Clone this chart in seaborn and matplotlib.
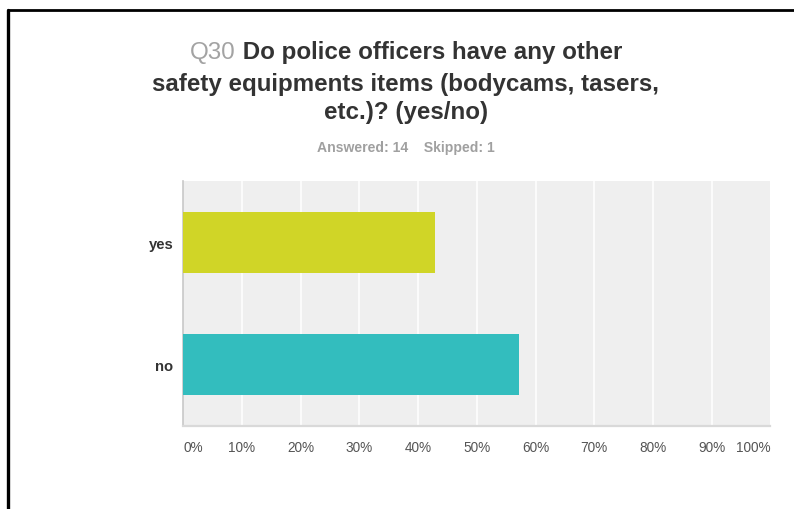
import matplotlib
matplotlib.use("Agg")
import matplotlib.pyplot as plt
from matplotlib.lines import Line2D
import numpy as np
import pandas as pd
import seaborn as sns

# Survey results
categories = ["yes", "no"]
responses = [6, 8]
answered = 14
skipped = 1
bar_colors = ["#D0D527", "#33BDBE"]
tick_values = [0, 10, 20, 30, 40, 50, 60, 70, 80, 90, 100]
tick_labels = ["0%", "10%", "20%", "30%", "40%", "50%", "60%", "70%", "80%", "90%", "100%"]

percent = [r / answered * 100 for r in responses]
df = pd.DataFrame({"answer": categories, "percent": percent})

sns.set_theme(style="white")
plt.rcParams["font.family"] = ["Liberation Sans", "DejaVu Sans"]

fig = plt.figure(figsize=(7.94, 5.10), dpi=100)
ax = fig.add_axes([0.2305, 0.1627, 0.7399, 0.4804])
ax.set_facecolor("#EFEFEF")

sns.barplot(data=df, x="percent", y="answer", hue="answer",
            palette=bar_colors, orient="h", width=0.5, legend=False,
            saturation=1, ax=ax, zorder=3, edgecolor="none")

ax.set_xlim(0, 100)
ax.set_ylim(1.5, -0.5)
ax.set_xlabel("")
ax.set_ylabel("")

ax.set_xticks(tick_values)
ax.set_xticklabels(tick_labels)
for v in tick_values[1:-1]:
    ax.axvline(v, color="white", lw=1.1, zorder=1)
ax.tick_params(axis="x", length=0, pad=10, labelsize=9.8, labelcolor="#555555")
ax.tick_params(axis="y", length=0, pad=7, labelsize=10.6, labelcolor="#333333")
labels = ax.get_xticklabels()
labels[0].set_ha("left")
labels[-1].set_ha("right")
for lab in ax.get_yticklabels():
    lab.set_fontweight("bold")

for side in ["top", "right"]:
    ax.spines[side].set_visible(False)
ax.spines["left"].set_color("#C8C8C8")
ax.spines["left"].set_linewidth(1.2)
ax.spines["bottom"].set_color("#D9D9D9")
ax.spines["bottom"].set_linewidth(1.6)

# Title: grey question number followed by the dark question text
title_size = 17.4
cx = 406 / 794
renderer = fig.canvas.get_renderer()
q = fig.text(0, 0, "Q30", fontsize=title_size, color="#A3A3A3")
rest = fig.text(0, 0, " Do police officers have any other", fontsize=title_size,
                fontweight="bold", color="#333333")
wq = q.get_window_extent(renderer).width / fig.bbox.width
wr = rest.get_window_extent(renderer).width / fig.bbox.width
x0 = cx - (wq + wr) / 2
y1 = 1 - 53 / 510
q.set_position((x0, y1))
q.set_va("center")
rest.set_position((x0 + wq, y1))
rest.set_va("center")
fig.text(cx, 1 - 84 / 510, "safety equipments items (bodycams, tasers,",
         fontsize=title_size, fontweight="bold", color="#333333",
         ha="center", va="center")
fig.text(cx, 1 - 113 / 510, "etc.)? (yes/no)",
         fontsize=title_size, fontweight="bold", color="#333333",
         ha="center", va="center")

fig.text(cx, 1 - 148 / 510, f"Answered: {answered}    Skipped: {skipped}",
         fontsize=10.1, fontweight="bold", color="#A0A0A0",
         ha="center", va="center")

# Outer frame along the top and left edges
fig.add_artist(Line2D([8 / 794, 1], [1 - 11 / 510, 1 - 11 / 510],
                      color="black", lw=2, transform=fig.transFigure))
fig.add_artist(Line2D([8 / 794, 8 / 794], [0, 1 - 11 / 510],
                      color="black", lw=2.4, transform=fig.transFigure))

fig.savefig("out.png", dpi=100, facecolor="white")
